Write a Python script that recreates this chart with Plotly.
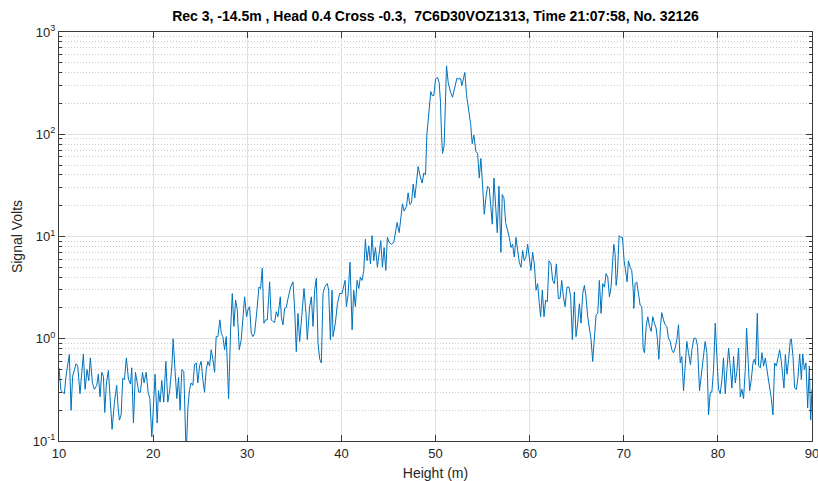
import plotly.graph_objects as go

height_m = [
    10.0, 10.21, 10.57, 10.74, 11.10, 11.28, 11.45, 11.81, 11.99, 12.23, 12.59, 12.77, 12.98, 13.16, 13.33,
    13.55, 13.76, 14.01, 14.18, 14.36, 14.54, 14.72, 14.86, 15.04, 15.25, 15.43, 15.64, 15.89, 16.13, 16.28,
    16.42, 16.60, 16.77, 16.95, 17.16, 17.38, 17.59, 17.73, 17.91, 18.12, 18.30, 18.48, 18.65, 18.87, 19.04,
    19.26, 19.47, 19.65, 19.86, 20.04, 20.21, 20.43, 20.57, 20.74, 20.92, 21.13, 21.35, 21.56, 21.77, 21.99,
    22.13, 22.34, 22.52, 22.70, 22.87, 23.05, 23.26, 23.51, 23.69, 23.87, 24.04, 24.22, 24.40, 24.58, 24.75,
    24.93, 25.11, 25.28, 25.46, 25.64, 25.82, 26.00, 26.17, 26.35, 26.53, 26.70, 26.88, 27.09, 27.24, 27.41,
    27.59, 27.77, 28.02, 28.23, 28.41, 28.58, 28.76, 28.94, 29.15, 29.36, 29.54, 29.72, 29.93, 30.07, 30.25,
    30.43, 30.60, 30.78, 31.03, 31.24, 31.42, 31.60, 31.77, 31.95, 32.13, 32.38, 32.55, 32.73, 32.91, 33.09,
    33.26, 33.51, 33.62, 33.80, 33.97, 34.15, 34.33, 34.61, 34.86, 35.04, 35.21, 35.39, 35.57, 35.82, 36.03,
    36.24, 36.38, 36.63,
    36.81, 36.99, 37.16, 37.34, 37.52, 37.70, 37.87, 38.05, 38.23, 38.51, 38.65, 38.83, 39.01, 39.11, 39.36,
    39.58, 39.82, 40.07, 40.25, 40.39, 40.53, 40.71, 40.92, 41.14, 41.31, 41.49, 41.67, 41.85, 42.02, 42.20,
    42.38, 42.55, 42.73, 42.91, 43.09, 43.26, 43.44, 43.62, 43.83, 44.01, 44.19, 44.36, 44.54, 44.72, 44.89,
    45.07, 45.32, 45.57, 45.75, 45.92, 46.14, 46.31, 46.49, 46.67, 46.92, 47.09, 47.27, 47.45, 47.63, 47.80,
    47.98, 48.16, 48.33, 48.58, 48.76, 48.94, 49.08, 49.22, 49.40, 49.50, 49.65, 49.82, 50.00, 50.21, 50.39,
    50.53, 50.64, 50.75, 50.92,
    51.17, 51.35, 51.60, 51.81, 52.06, 52.27, 52.48, 52.66, 52.80, 52.98, 53.12, 53.30, 53.55, 53.73, 53.90,
    54.08, 54.29, 54.47, 54.65, 54.82, 55.00, 55.18, 55.36, 55.53, 55.71, 55.85, 56.03, 56.21, 56.38, 56.56,
    56.74, 56.95, 57.09, 57.27, 57.45, 57.63, 57.84, 58.02, 58.19, 58.37, 58.55, 58.73, 58.90, 59.08, 59.26,
    59.43, 59.61, 59.79, 59.97, 60.14, 60.32, 60.50, 60.68, 60.85, 61.03, 61.17, 61.35, 61.53, 61.70, 61.88,
    62.06, 62.27, 62.45, 62.63, 62.84, 63.05, 63.23, 63.41, 63.59, 63.76, 63.97, 64.19, 64.36, 64.54, 64.75,
    64.93,
    65.11, 65.29, 65.46, 65.64, 65.82, 65.99, 66.17, 66.35, 66.53, 66.70, 66.88, 67.06, 67.24, 67.41, 67.59,
    67.77, 67.95, 68.12, 68.30, 68.48, 68.65, 68.83, 68.94, 69.08, 69.19, 69.33, 69.51, 69.68, 69.86, 70.04,
    70.21, 70.36, 70.50, 70.68, 70.85, 71.00, 71.07, 71.21, 71.38, 71.56, 71.74, 71.92, 72.06, 72.20, 72.38,
    72.56, 72.73, 72.91, 73.09, 73.26, 73.44, 73.58, 73.73, 73.90, 74.04, 74.22, 74.40, 74.58, 74.75, 74.93,
    75.11, 75.29, 75.46, 75.64, 75.82, 76.00, 76.17, 76.35, 76.53, 76.70, 76.88, 77.09, 77.24, 77.45, 77.66,
    77.84, 78.05, 78.23, 78.41, 78.58,
    78.65, 78.83, 79.01, 79.19, 79.36, 79.54, 79.72, 79.90, 80.07, 80.25, 80.43, 80.60, 80.78, 80.96, 81.14,
    81.31, 81.49, 81.67, 81.85, 82.02, 82.20, 82.38, 82.55, 82.73, 82.91, 83.05, 83.19, 83.37, 83.55, 83.73,
    83.87, 84.01, 84.19, 84.33, 84.51, 84.68, 84.86, 85.04, 85.21, 85.39, 85.68, 85.85, 86.03, 86.21, 86.39,
    86.56, 86.74, 86.92, 87.02, 87.17, 87.34, 87.52, 87.70, 87.80, 87.98, 88.16, 88.34, 88.51, 88.69, 88.87,
    89.01, 89.19, 89.36, 89.54, 89.72, 89.86, 90.00,
]

signal_volts = [
    0.52, 0.31, 0.29, 0.43, 0.70, 0.20, 0.43, 0.57, 0.54, 0.29, 0.71, 0.32, 0.50, 0.39, 0.65,
    0.37, 0.32, 0.35, 0.45, 0.27, 0.47, 0.43, 0.19, 0.37, 0.49, 0.28, 0.13, 0.24, 0.35, 0.21,
    0.16, 0.18, 0.41, 0.40, 0.65, 0.40, 0.36, 0.52, 0.15, 0.47, 0.37, 0.30, 0.30, 0.47, 0.37,
    0.47, 0.30, 0.26, 0.11, 0.21, 0.45, 0.15, 0.31, 0.24, 0.39, 0.24, 0.60, 0.24, 0.32, 0.54,
    1.00, 0.47, 0.26, 0.42, 0.20, 0.50, 0.48, 0.07, 0.21, 0.32, 0.37, 0.35, 0.56, 0.58, 0.37,
    0.54, 0.60, 0.40, 0.30, 0.50, 0.60, 0.54, 0.78, 0.63, 0.47, 1.05, 1.05, 1.53, 1.13, 1.05,
    0.78, 1.05, 0.26, 1.22, 2.77, 1.32, 2.39, 1.91, 0.78, 0.98, 1.53, 2.57, 1.64, 1.91, 2.06,
    1.13, 1.05, 1.13, 1.91, 3.2, 3.1, 4.9, 1.42, 1.53, 1.53, 3.6, 1.53, 1.47, 1.45, 1.84,
    1.64, 2.57, 1.64, 1.37, 1.98, 2.02, 2.48, 3.2, 3.6, 1.91, 0.75, 1.77, 0.94, 1.64, 3.1,
    1.77, 0.98, 2.06,
    2.57, 1.32, 2.98, 3.9, 0.91, 0.63, 0.58, 2.77, 3.2, 3.46, 2.98, 0.98, 2.98, 1.05, 1.42,
    2.2, 2.77, 2.77, 3.33, 3.72, 2.06, 2.67, 5.6, 1.22, 2.98, 2.06, 3.72, 3.1, 4.0, 3.72,
    4.66, 9.4, 5.8, 8.1, 5.4, 10.2, 5.8, 7.8, 5.0, 7.3, 9.1, 5.0, 7.8, 4.66, 9.8,
    8.75, 8.4, 8.75, 11.4, 13.7, 10.9, 15.3, 20.9, 17.7, 19.8, 26.7, 20.6, 21.3, 32.6, 23.9,
    37.3, 48.3, 40.2, 33.3, 41.7, 40.2, 98, 142, 191, 261, 239, 239, 346, 360, 321,
    206, 98, 65, 78,
    467, 321, 257, 230, 299, 352, 346, 352, 299, 373, 402, 239, 171, 127, 81,
    98, 68, 65, 37.3, 58, 32, 16.5, 23.9, 31, 29.8, 22.2, 13.2, 37.3, 22.2, 10.9,
    31, 7.0, 25.7, 23.9, 13.7, 11.8, 9.8, 7.8, 8.4, 6.3, 9.8, 7.3, 5.6, 5.0, 7.3,
    5.8, 6.3, 8.4, 6.3, 4.66, 7.0, 5.4, 2.98, 3.46, 2.2, 1.64, 2.98, 1.64, 2.39, 2.3,
    5.8, 5.4, 3.72, 3.46, 5.4, 2.48, 2.48, 3.72, 2.57, 2.06, 3.2, 3.2, 2.57, 0.98, 2.87,
    1.05,
    1.42, 2.2, 1.42, 2.77, 3.33, 2.57, 1.64, 1.22, 0.98, 0.60, 0.98, 1.71, 1.77, 3.72, 1.77,
    3.46, 3.2, 4.33, 4.0, 2.57, 3.2, 5.8, 8.4, 6.8, 3.33, 4.33, 10.2, 9.8, 9.8, 5.8,
    4.66, 3.6, 5.8, 5.0, 4.66, 3.1, 1.98, 3.46, 3.6, 2.77, 2.13, 2.06, 0.81, 0.73, 1.32,
    1.64, 1.32, 1.18, 1.64, 1.42, 1.27, 0.98, 0.63, 1.32, 1.8, 1.53, 1.37, 1.32, 1.01, 0.94,
    0.78, 0.73, 0.81, 0.98, 1.37, 0.58, 0.67, 0.31, 0.54, 0.94, 0.73, 0.56, 0.78, 1.01, 1.01,
    0.84, 0.31, 0.43, 0.63, 0.91,
    0.94, 0.73, 0.18, 0.30, 0.30, 0.50, 1.42, 0.67, 0.32, 0.29, 0.40, 0.65, 0.29, 0.50, 0.81,
    0.54, 0.33, 0.67, 0.37, 0.48, 0.81, 0.27, 0.32, 0.26, 0.50, 1.27, 0.67, 0.31, 0.40, 0.58,
    0.63, 0.56, 1.77, 0.54, 0.52, 0.73, 0.54, 0.65, 0.50, 0.39, 0.26, 0.18, 0.58, 0.54, 0.63,
    0.78, 0.60, 0.43, 0.33, 0.70, 0.45, 0.63, 0.98, 1.00, 0.67, 0.33, 0.32, 0.42, 0.71, 0.40,
    0.71, 0.50, 0.58, 0.21, 0.54, 0.16, 0.32,
]

y_tick_vals = [0.1, 1, 10, 100, 1000]
y_tick_text = ["10<sup>-1</sup>", "10<sup>0</sup>", "10<sup>1</sup>", "10<sup>2</sup>", "10<sup>3</sup>"]
x_tick_vals = [10, 20, 30, 40, 50, 60, 70, 80, 90]

title_text = "Rec 3, -14.5m , Head 0.4 Cross -0.3,  7C6D30VOZ1313, Time 21:07:58, No. 32126"

FONT = "Liberation Sans, Arial, sans-serif"
AX = "#3a3a3a"
TXT = "#262626"
GRID = "#e0e0e0"

fig = go.Figure()
fig.add_trace(go.Scatter(
    x=height_m, y=signal_volts, mode="lines",
    line=dict(color="#0072BD", width=1),
    showlegend=False, hoverinfo="skip",
))

fig.update_layout(
    width=818, height=481,
    margin=dict(l=59, r=6, t=32, b=40),
    paper_bgcolor="white", plot_bgcolor="white",
    font=dict(family=FONT, size=13, color=TXT),
    title=dict(text="<b>" + title_text + "</b>", x=0.5, xref="paper", xanchor="center",
               y=(481 - 16) / 481, yref="container", yanchor="middle",
               font=dict(family=FONT, size=14, color="#000000")),
)

fig.update_xaxes(
    range=[10, 90], tickvals=x_tick_vals, automargin=False, ticklabeloverflow="allow",
    showline=True, linecolor=AX, linewidth=1, mirror="ticks",
    ticks="inside", ticklen=6, tickcolor=AX,
    showgrid=True, gridcolor=GRID, gridwidth=1, zeroline=False,
    tickfont=dict(family=FONT, size=13, color=TXT),
    title=dict(text="Height (m)", font=dict(family=FONT, size=14, color=TXT), standoff=9),
)

fig.update_yaxes(
    type="log", range=[-1, 3], automargin=False, ticklabeloverflow="allow",
    tickvals=y_tick_vals, ticktext=y_tick_text,
    showline=True, linecolor=AX, linewidth=1, mirror="ticks",
    ticks="inside", ticklen=6, tickcolor=AX,
    showgrid=True, gridcolor=GRID, gridwidth=1, zeroline=False,
    tickfont=dict(family=FONT, size=13, color=TXT),
    minor=dict(dtick="D1", ticks="inside", ticklen=3, tickcolor=AX,
               showgrid=True, gridcolor="#c8c8c8", griddash="1px,2px", gridwidth=1),
    title=dict(text="Signal Volts", font=dict(family=FONT, size=14, color=TXT), standoff=6),
)

fig.write_html("out.html")
